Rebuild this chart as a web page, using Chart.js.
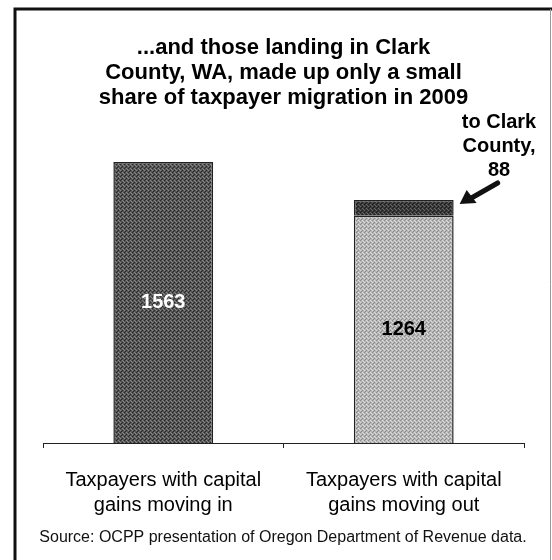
<!DOCTYPE html>
<html>
<head>
<meta charset="utf-8">
<script src="https://cdn.jsdelivr.net/npm/chart.js@4.4.0/dist/chart.umd.min.js"></script>
<style>
  html, body { margin: 0; padding: 0; background: #fff; }
  #wrap { width: 552px; height: 560px; position: relative; }
</style>
</head>
<body>
<div id="wrap"><canvas id="chart" width="552" height="560"></canvas></div>
<script>
// data
const categories = [
  ["Taxpayers with capital", "gains moving in"],
  ["Taxpayers with capital", "gains moving out"]
];
const mainValues = [1563, 1264];
const clarkValues = [null, 88];
const clarkNote = ["to Clark", "County,", "88"];
const titleLines = [
  "...and those landing in Clark",
  "County, WA, made up only a small",
  "share of taxpayer migration in 2009"
];
const sourceText = "Source: OCPP presentation of Oregon Department of Revenue data.";
const yMax = 1800;

const FONT = 'Arial, "Liberation Sans", Helvetica, sans-serif';

// small screened fill, like the scanned halftone bars
function screen(base, dark, light) {
  const p = document.createElement("canvas");
  p.width = 4; p.height = 4;
  const g = p.getContext("2d");
  g.fillStyle = base;
  g.fillRect(0, 0, 4, 4);
  g.fillStyle = dark;
  g.fillRect(0, 0, 1, 1); g.fillRect(2, 2, 1, 1); g.fillRect(1, 3, 1, 1);
  g.fillStyle = light;
  g.fillRect(2, 0, 1, 1); g.fillRect(0, 2, 1, 1); g.fillRect(3, 1, 1, 1);
  return g.createPattern(p, "repeat");
}
const ctx = document.getElementById("chart").getContext("2d");
const darkFill = screen("#555", "#2a2a2a", "#888");
const lightFill = screen("#b6b6b6", "#8a8a8a", "#dcdcdc");
const topFill = screen("#3a3a3a", "#1c1c1c", "#666");

// frame, value labels, note + arrow, source line
const extras = {
  id: "extras",
  beforeDraw(chart) {
    const c = chart.ctx;
    c.save();
    c.fillStyle = "#fff";
    c.fillRect(0, 0, chart.width, chart.height);
    c.strokeStyle = "#111";
    c.lineWidth = 3;
    c.beginPath();
    c.moveTo(15, 560);
    c.lineTo(15, 9);
    c.lineTo(552, 9);
    c.stroke();
    c.strokeStyle = "#999";
    c.lineWidth = 1;
    c.beginPath();
    c.moveTo(550.5, 9);
    c.lineTo(550.5, 560);
    c.stroke();
    c.restore();
  },
  afterDraw(chart) {
    const c = chart.ctx;
    c.save();
    c.textAlign = "center";
    c.textBaseline = "middle";
    c.font = "bold 20px " + FONT;

    // numbers inside bars
    const m0 = chart.getDatasetMeta(0);
    m0.data.forEach((bar, i) => {
      const y = (bar.y + bar.base) / 2;
      c.fillStyle = i === 0 ? "#fff" : "#000";
      c.fillText(String(mainValues[i]), bar.x, y);
    });

    // note for the Clark County slice
    const m1 = chart.getDatasetMeta(1);
    const top = m1.data[1];
    c.fillStyle = "#000";
    clarkNote.forEach((t, i) => c.fillText(t, 499, 122 + i * 24));

    // arrow pointing at the slice
    const tipX = top.x + top.width / 2 + 6;
    const tipY = top.y + 4;
    c.strokeStyle = "#111";
    c.fillStyle = "#111";
    c.lineWidth = 5;
    c.lineCap = "round";
    c.beginPath();
    c.moveTo(tipX + 38, tipY - 21);
    c.lineTo(tipX + 10, tipY - 5);
    c.stroke();
    c.beginPath();
    c.moveTo(tipX, tipY);
    c.lineTo(tipX + 7, tipY - 14);
    c.lineTo(tipX + 17, tipY - 1);
    c.closePath();
    c.fill();

    // source line
    c.font = "16px " + FONT;
    c.fillText(sourceText, 283, 538);
    c.restore();
  }
};

new Chart(ctx, {
  type: "bar",
  data: {
    labels: categories,
    datasets: [
      {
        label: "All destinations",
        data: mainValues,
        backgroundColor: [darkFill, lightFill],
        borderColor: ["#222", "#222"],
        borderWidth: 1.5
      },
      {
        label: "Clark County",
        data: clarkValues,
        backgroundColor: topFill,
        borderColor: "#222",
        borderWidth: 1.5
      }
    ]
  },
  options: {
    responsive: false,
    animation: false,
    layout: { padding: { top: 10, left: 43, right: 28, bottom: 22 } },
    datasets: { bar: { categoryPercentage: 1, barPercentage: 0.415 } },
    plugins: {
      legend: { display: false },
      tooltip: { enabled: false },
      title: {
        display: true,
        text: titleLines,
        color: "#000",
        font: { family: FONT, size: 22, weight: "bold", lineHeight: 1.12 },
        padding: { top: 26, bottom: 9.5 }
      }
    },
    scales: {
      x: {
        stacked: true,
        grid: { display: true, drawOnChartArea: false, drawTicks: true, tickLength: 5, color: "#222" },
        border: { display: true, color: "#222", width: 1 },
        ticks: { color: "#000", padding: 20, font: { family: FONT, size: 20, lineHeight: 1.25 } }
      },
      y: {
        stacked: true,
        display: false,
        min: 0,
        max: yMax
      }
    }
  },
  plugins: [extras]
});
</script>
</body>
</html>
